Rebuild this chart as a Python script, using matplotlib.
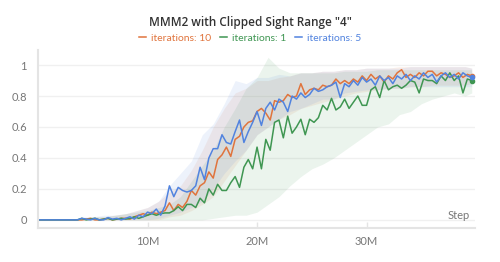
import numpy as np
import matplotlib
matplotlib.use("Agg")
import matplotlib.pyplot as plt

plt.rcParams["font.family"] = ["Lato", "DejaVu Sans"]

# step axis in millions, one point every 0.4M
steps = np.arange(100) * 0.4

iter10 = [
    0, 0, 0, 0, 0, 0, 0, 0, 0, 0,
    0, 0.005, 0.01, 0, 0, 0.005, 0.01, 0.0, 0.005, 0.01,
    0.01, 0.005, 0.02, 0.03, 0.04,
    0.03, 0.05, 0.04, 0.05, 0.06,
    0.11, 0.06, 0.10, 0.08, 0.12,
    0.19, 0.16, 0.22, 0.24, 0.31,
    0.27, 0.39, 0.42, 0.47, 0.41,
    0.52, 0.54, 0.60, 0.63, 0.64,
    0.70, 0.72, 0.69, 0.645, 0.77,
    0.76, 0.77, 0.81, 0.79, 0.80,
    0.88, 0.81, 0.84, 0.85, 0.84,
    0.87, 0.86, 0.87, 0.91, 0.88,
    0.90, 0.88, 0.91, 0.89, 0.93,
    0.90, 0.94, 0.91, 0.93, 0.89,
    0.93, 0.91, 0.95, 0.97, 0.92,
    0.94, 0.92, 0.95, 0.93, 0.96,
    0.96, 0.93, 0.95, 0.94, 0.92,
    0.93, 0.95, 0.92, 0.94, 0.93,
]

iter1 = [
    0, 0, 0, 0, 0, 0, 0, 0, 0, 0,
    0.01, 0.0, 0.005, 0.01, 0, 0.005, 0.01, 0.0, 0.005, 0.01,
    0.005, 0.01, 0.02, 0.01, 0.02,
    0.03, 0.04, 0.03, 0.04, 0.045,
    0.045, 0.06, 0.085, 0.06, 0.10,
    0.10, 0.08, 0.14, 0.11, 0.20,
    0.16, 0.23, 0.19, 0.19, 0.24,
    0.28, 0.21, 0.34, 0.39, 0.33,
    0.47, 0.33, 0.52, 0.45, 0.63,
    0.645, 0.53, 0.67, 0.56, 0.60,
    0.65, 0.55, 0.65, 0.63, 0.66,
    0.74, 0.71, 0.785, 0.71, 0.73,
    0.78, 0.72, 0.76, 0.80, 0.74,
    0.74, 0.84, 0.86, 0.79, 0.90,
    0.84, 0.86, 0.87, 0.85, 0.87,
    0.90, 0.89, 0.82, 0.91, 0.90,
    0.90, 0.88, 0.93, 0.90, 0.95,
    0.90, 0.93, 0.82, 0.91, 0.90,
]

iter5 = [
    0, 0, 0, 0, 0, 0, 0, 0, 0, 0,
    0.01, 0.005, 0, 0.01, 0, 0, 0.015, 0.005, 0.01, 0.0,
    0.01, 0.02, 0.005, 0.03, 0.02,
    0.05, 0.04, 0.07, 0.03, 0.09,
    0.22, 0.15, 0.21, 0.19, 0.18,
    0.19, 0.22, 0.34, 0.26, 0.40,
    0.46, 0.46, 0.55, 0.50, 0.49,
    0.57, 0.645, 0.50, 0.57, 0.63,
    0.70, 0.61, 0.72, 0.76, 0.71,
    0.78, 0.76, 0.70, 0.80, 0.78,
    0.82, 0.79, 0.81, 0.85, 0.83,
    0.84, 0.86, 0.87, 0.89, 0.79,
    0.88, 0.86, 0.90, 0.87, 0.92,
    0.89, 0.91, 0.87, 0.93, 0.90,
    0.92, 0.88, 0.93, 0.91, 0.94,
    0.90, 0.93, 0.91, 0.95, 0.92,
    0.94, 0.89, 0.93, 0.95, 0.92,
    0.94, 0.91, 0.95, 0.93, 0.92,
]

# min/max bands, one point every 1M
band_steps = list(range(40)) + [39.6]

iter10_lo = [0, 0, 0, 0, 0, 0, 0, 0, 0, 0, 0, 0, 0.02, 0.03, 0.06, 0.10, 0.15, 0.25, 0.35, 0.45,
             0.55, 0.60, 0.65, 0.68, 0.72, 0.74, 0.76, 0.78, 0.80, 0.82, 0.83, 0.84, 0.85, 0.85,
             0.86, 0.86, 0.87, 0.87, 0.87, 0.87, 0.88]
iter10_hi = [0, 0, 0, 0, 0.01, 0.02, 0.02, 0.03, 0.04, 0.06, 0.08, 0.12, 0.18, 0.22, 0.32, 0.45,
             0.60, 0.72, 0.82, 0.85, 0.90, 0.90, 0.92, 0.93, 0.95, 0.95, 0.96, 0.96, 0.97, 0.97,
             0.98, 0.98, 0.98, 0.99, 0.99, 0.99, 0.99, 0.99, 0.99, 0.99, 0.98]

iter1_lo = [0, 0, 0, 0, 0, 0, 0, 0, 0, 0, 0, 0, 0, 0, 0, 0, 0.01, 0.02, 0.03, 0.03,
            0.05, 0.10, 0.15, 0.22, 0.28, 0.33, 0.36, 0.40, 0.45, 0.50, 0.55, 0.60, 0.62, 0.68,
            0.70, 0.75, 0.78, 0.80, 0.82, 0.80, 0.82]
iter1_hi = [0, 0, 0, 0, 0.01, 0.02, 0.02, 0.03, 0.04, 0.05, 0.06, 0.08, 0.10, 0.15, 0.25, 0.35,
            0.45, 0.60, 0.72, 0.85, 0.92, 1.05, 0.98, 0.95, 0.95, 0.95, 0.95, 0.95, 0.96, 0.96,
            0.96, 0.97, 0.97, 0.97, 0.97, 0.97, 0.97, 0.97, 0.97, 0.97, 0.97]

iter5_lo = [0, 0, 0, 0, 0, 0, 0, 0, 0, 0, 0, 0.01, 0.03, 0.05, 0.08, 0.12, 0.20, 0.30, 0.38, 0.45,
            0.55, 0.60, 0.65, 0.70, 0.72, 0.75, 0.78, 0.78, 0.82, 0.83, 0.84, 0.84, 0.85, 0.85,
            0.86, 0.86, 0.86, 0.86, 0.86, 0.86, 0.86]
iter5_hi = [0, 0, 0, 0, 0.02, 0.02, 0.03, 0.03, 0.04, 0.06, 0.08, 0.12, 0.22, 0.30, 0.38, 0.55,
            0.62, 0.75, 0.90, 0.88, 0.92, 0.92, 0.94, 0.93, 0.95, 0.95, 0.96, 0.96, 0.97, 0.97,
            0.98, 0.98, 0.98, 0.98, 0.99, 0.99, 0.99, 0.99, 0.99, 0.99, 0.98]

x_ticks = [10, 20, 30]
x_tick_labels = ["10M", "20M", "30M"]
y_ticks = [0, 0.2, 0.4, 0.6, 0.8, 1]
y_tick_labels = ["0", "0.2", "0.4", "0.6", "0.8", "1"]

series = [
    ("iterations: 10", iter10, iter10_lo, iter10_hi, "#e0743d"),
    ("iterations: 1", iter1, iter1_lo, iter1_hi, "#3f9652"),
    ("iterations: 5", iter5, iter5_lo, iter5_hi, "#5183df"),
]

fig = plt.figure(figsize=(5, 2.62), dpi=100)
ax = fig.add_axes([0.076, 0.13, 0.874, 0.679])

for label, vals, lo, hi, color in series:
    ax.fill_between(band_steps, lo, hi, color=color, alpha=0.1, linewidth=0)
for label, vals, lo, hi, color in series:
    ax.plot(steps, vals, color=color, lw=1.1, label=label)
    ax.plot(steps[-1], vals[-1], "o", color=color, ms=3)

ax.set_xlim(0, 39.9)
ax.set_ylim(-0.052, 1.097)

for side in ["top", "right"]:
    ax.spines[side].set_visible(False)
for side in ["left", "bottom"]:
    ax.spines[side].set_color("#e4e4e4")
    ax.spines[side].set_linewidth(1.5)

ax.set_yticks(y_ticks)
ax.set_yticklabels(y_tick_labels)
ax.set_xticks(x_ticks)
ax.set_xticklabels(x_tick_labels)
ax.tick_params(axis="y", length=0, pad=8, labelsize=8, labelcolor="#777777")
ax.tick_params(axis="x", direction="in", length=4, color="#e4e4e4", width=1,
               labelsize=8, labelcolor="#777777", pad=6)
ax.grid(axis="y", color="#f0f0f0", lw=1)
ax.set_axisbelow(True)

ax.text(0.988, 0.04, "Step", transform=ax.transAxes, ha="right", va="bottom",
        fontsize=8, color="#777777")

fig.text(0.5, 0.915, 'MMM2 with Clipped Sight Range "4"', ha="center", va="center",
         fontsize=8.5, fontweight="semibold", color="#333333",
         family=["Open Sans", "DejaVu Sans"])
fig.legend(loc="center", bbox_to_anchor=(0.5, 0.855), ncol=3, frameon=False,
           fontsize=7.5, handlelength=0.7, handletextpad=0.5, columnspacing=0.8,
           labelcolor="linecolor")

fig.savefig("out.png", dpi=100)
